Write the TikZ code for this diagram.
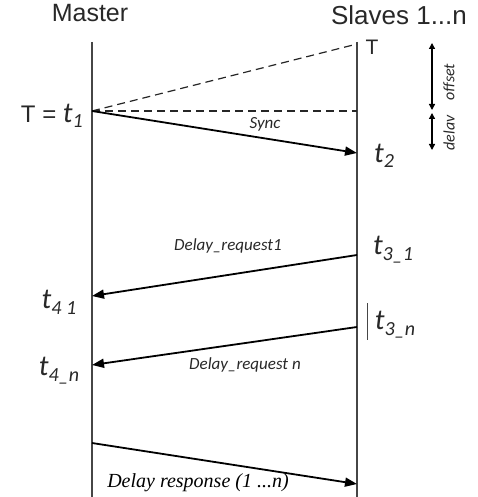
\documentclass[tikz,border=0pt]{standalone}
\usepackage{fontspec}
\setmainfont{Liberation Sans}
\newfontfamily\lblfont{Carlito}
\newfontfamily\serfont{Liberation Serif}
\usetikzlibrary{arrows.meta,positioning}
\definecolor{linegray}{RGB}{70,70,70}
\definecolor{textgray}{RGB}{40,40,40}

\begin{document}
\begin{tikzpicture}[x=1pt,y=-1pt,
    life/.style={draw=linegray,line width=1.5pt},
    msg/.style={-{Triangle[length=12pt,width=9pt]},line width=1.8pt,draw=black},
    guide/.style={line width=1.2pt,dash pattern=on 8pt off 5pt,draw=black!85},
    span/.style={{Triangle[length=6pt,width=6pt]}-{Triangle[length=6pt,width=6pt]},line width=1.3pt},
    head/.style={font=\fontsize{25}{27}\selectfont,text=textgray},
    stamp/.style={font=\lblfont\itshape\fontsize{29}{31}\selectfont,text=textgray},
    msglbl/.style={font=\lblfont\itshape\fontsize{17}{19}\selectfont,text=textgray},
    side/.style={font=\lblfont\itshape\fontsize{16}{18}\selectfont,rotate=90,text=textgray}
  ]
    \useasboundingbox (0,0) rectangle (478,497);
    % lifelines
    \coordinate (mtop) at (92,42);
    \coordinate (mbot) at (92,497);
    \coordinate (stop) at (357,42);
    \coordinate (sbot) at (357,497);
    \draw[life] (mtop) -- (mbot);
    \draw[life] (stop) -- (sbot);
    \node[head] (master) at (90,13) {Master};
    \node[head,font=\fontsize{26}{28}\selectfont] (slaves) at (399,15) {Slaves 1...n};
    % sync and offset
    \coordinate (m1) at (92,111);
    \coordinate (sT) at (357,44);
    \coordinate (sh) at (357,111);
    \coordinate (s2) at (357,153);
    \draw[guide] (m1) -- (sT);
    \draw[guide] (m1) -- (sh);
    \draw[msg] (m1) -- (s2);
    \node[font=\fontsize{21}{23}\selectfont,text=textgray] (tT) at (372,47) {T};
    \node[text=textgray,anchor=east,inner sep=1pt] (t1) at (84,116) {\fontsize{24}{26}\selectfont T = \lblfont\itshape\fontsize{29}{31}\selectfont t\raisebox{-5pt}{\fontsize{20}{22}\selectfont 1}};
    \node[msglbl] (sync) at (265,124) {Sync};
    \node[stamp] (t2) at (384,156) {t\raisebox{-5pt}{\fontsize{20}{22}\selectfont 2}};
    \coordinate (o1) at (432,43);
    \coordinate (o2) at (432,110);
    \coordinate (d1) at (432,113);
    \coordinate (d2) at (432,150);
    \draw[span] (o1) -- (o2);
    \draw[span] (d1) -- (d2);
    \node[side] (offset) at (449,82) {offset};
    \node[side] (delay) at (449,133) {delav};
    % delay requests
    \coordinate (s31) at (357,255);
    \coordinate (m41) at (92,296);
    \coordinate (s3n) at (357,327);
    \coordinate (m4n) at (92,365);
    \draw[msg] (s31) -- (m41);
    \draw[msg] (s3n) -- (m4n);
    \node[msglbl] (req1) at (228,246) {Delay\_request1};
    \node[msglbl] (reqn) at (245,365) {Delay\_request n};
    \node[stamp] (t31) at (393,250) {t\raisebox{-6pt}{\fontsize{20}{22}\selectfont 3\_1}};
    \node[stamp] (t3n) at (395,325) {t\raisebox{-6pt}{\fontsize{20}{22}\selectfont 3\_n}};
    \coordinate (bar1) at (367,303);
    \coordinate (bar2) at (367,340);
    \draw[line width=0.9pt,draw=linegray] (bar1) -- (bar2);
    \node[stamp] (t41) at (59,302) {t\raisebox{-6pt}{\fontsize{20}{22}\selectfont 4\ 1}};
    \node[stamp] (t4n) at (59,371) {t\raisebox{-6pt}{\fontsize{20}{22}\selectfont 4\_n}};
    % delay response
    \coordinate (mr) at (92,443);
    \coordinate (sr) at (357,484);
    \draw[msg] (mr) -- (sr);
    \node[font=\serfont\itshape\fontsize{20}{22}\selectfont,text=black] (resp) at (198,483) {Delay response (1 ...n)};
  \end{tikzpicture}
\end{document}
